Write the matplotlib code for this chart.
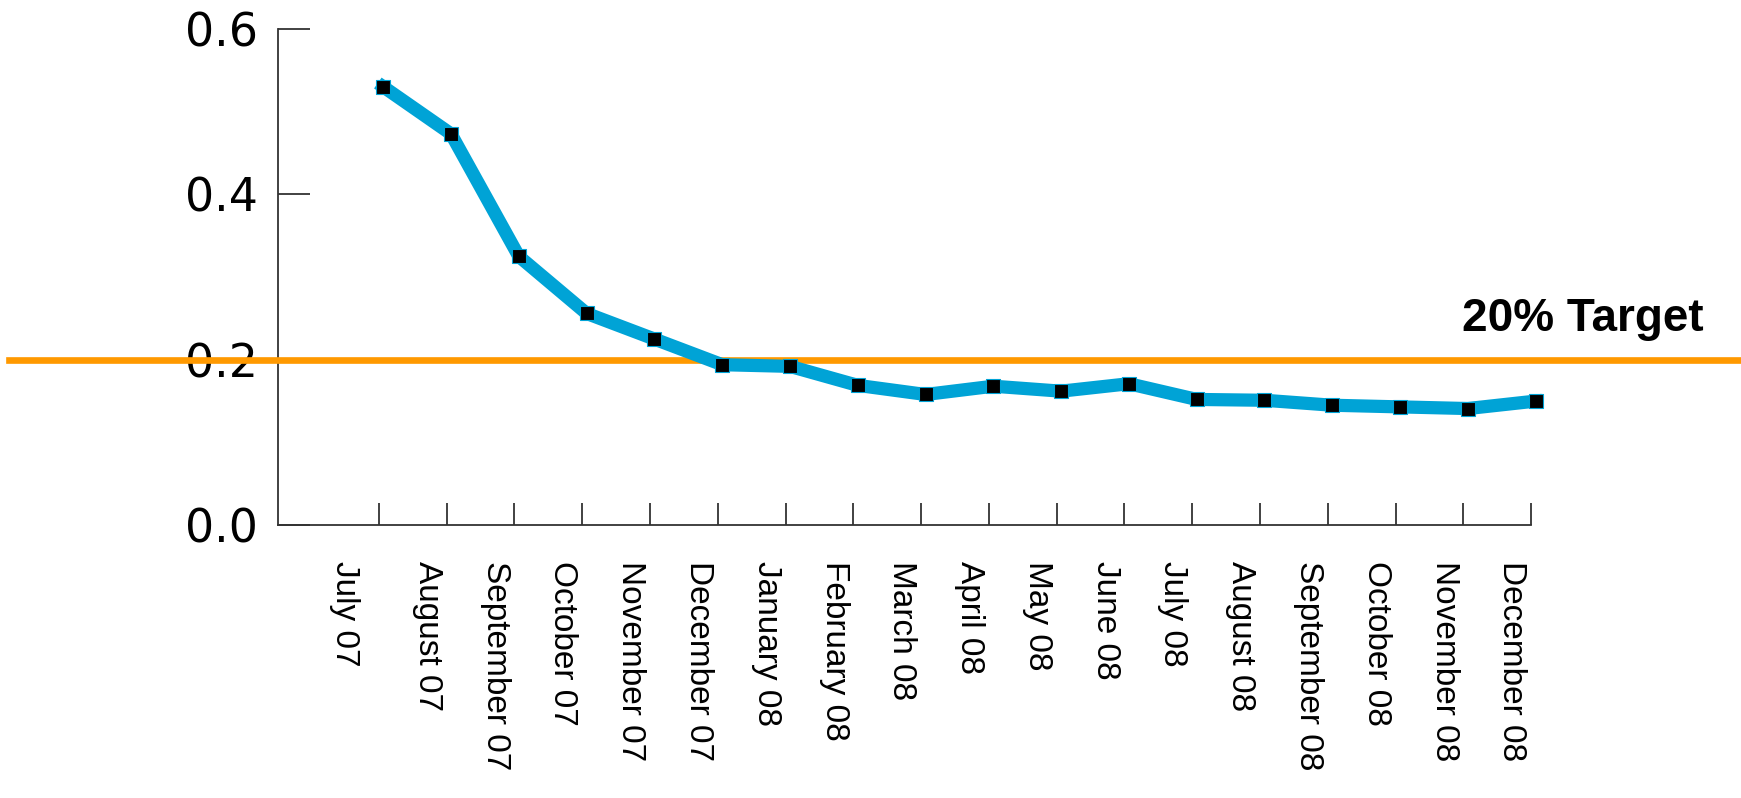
import numpy as np
import matplotlib
matplotlib.use('Agg')
import matplotlib.pyplot as plt

############# data #######################################
months = ['July 07', 'August 07', 'September 07', 'October 07', 'November 07',
          'December 07', 'January 08', 'February 08', 'March 08', 'April 08',
          'May 08', 'June 08', 'July 08', 'August 08', 'September 08',
          'October 08', 'November 08', 'December 08']
rate = [0.530, 0.473, 0.325, 0.256, 0.225, 0.194, 0.192, 0.169, 0.158,
        0.168, 0.162, 0.171, 0.152, 0.151, 0.145, 0.143, 0.141, 0.150]
target = 0.2
target_label = '20% Target'
yticks = [0.0, 0.2, 0.4, 0.6]

x = np.arange(len(months))

fig = plt.figure(figsize=(17.41, 7.98), dpi=100)
ax = fig.add_axes([0.1594, 0.3419, 0.7201, 0.6219])

# target line runs across the whole figure
ax.axhline(target, xmin=-0.214, xmax=1.17, color='#FF9900', lw=4.8,
           clip_on=False, zorder=4)

ax.plot(x, rate, '-', color='#00A3D6', lw=9.5, marker='s', markersize=10.5,
        markerfacecolor='black', markeredgecolor='#00A3D6',
        markeredgewidth=0.8, clip_on=False, zorder=5)

ax.set_xlim(-1.56, 16.935)
ax.set_ylim(0, 0.6)

for s in ['top', 'right']:
    ax.spines[s].set_visible(False)
for s in ['left', 'bottom']:
    ax.spines[s].set_color('#333333')
    ax.spines[s].set_linewidth(1.3)

ax.set_yticks(yticks)
ax.set_yticklabels(['%.1f' % v for v in yticks], fontsize=33,
                   family='DejaVu Sans')
ax.tick_params(axis='y', direction='in', length=23, width=1.3,
               color='#333333', pad=14)

ax.set_xticks(x - 0.065)
ax.set_xticklabels([])
ax.tick_params(axis='x', direction='in', length=16, width=1.3,
               color='#333333')

### month labels, centred between the ticks ###
label_pos = x - 0.35
label_pos[0] = -0.57
for p, m in zip(label_pos, months):
    ax.text(p, -0.0725, m, transform=ax.get_xaxis_transform(),
            rotation=270, ha='center', va='top', fontsize=24,
            family='Liberation Sans')

fig.text(0.9788, 0.585, target_label, ha='right', va='baseline',
         fontsize=33, fontweight='bold', family='Liberation Sans')

plt.savefig('out.png', dpi=100)
